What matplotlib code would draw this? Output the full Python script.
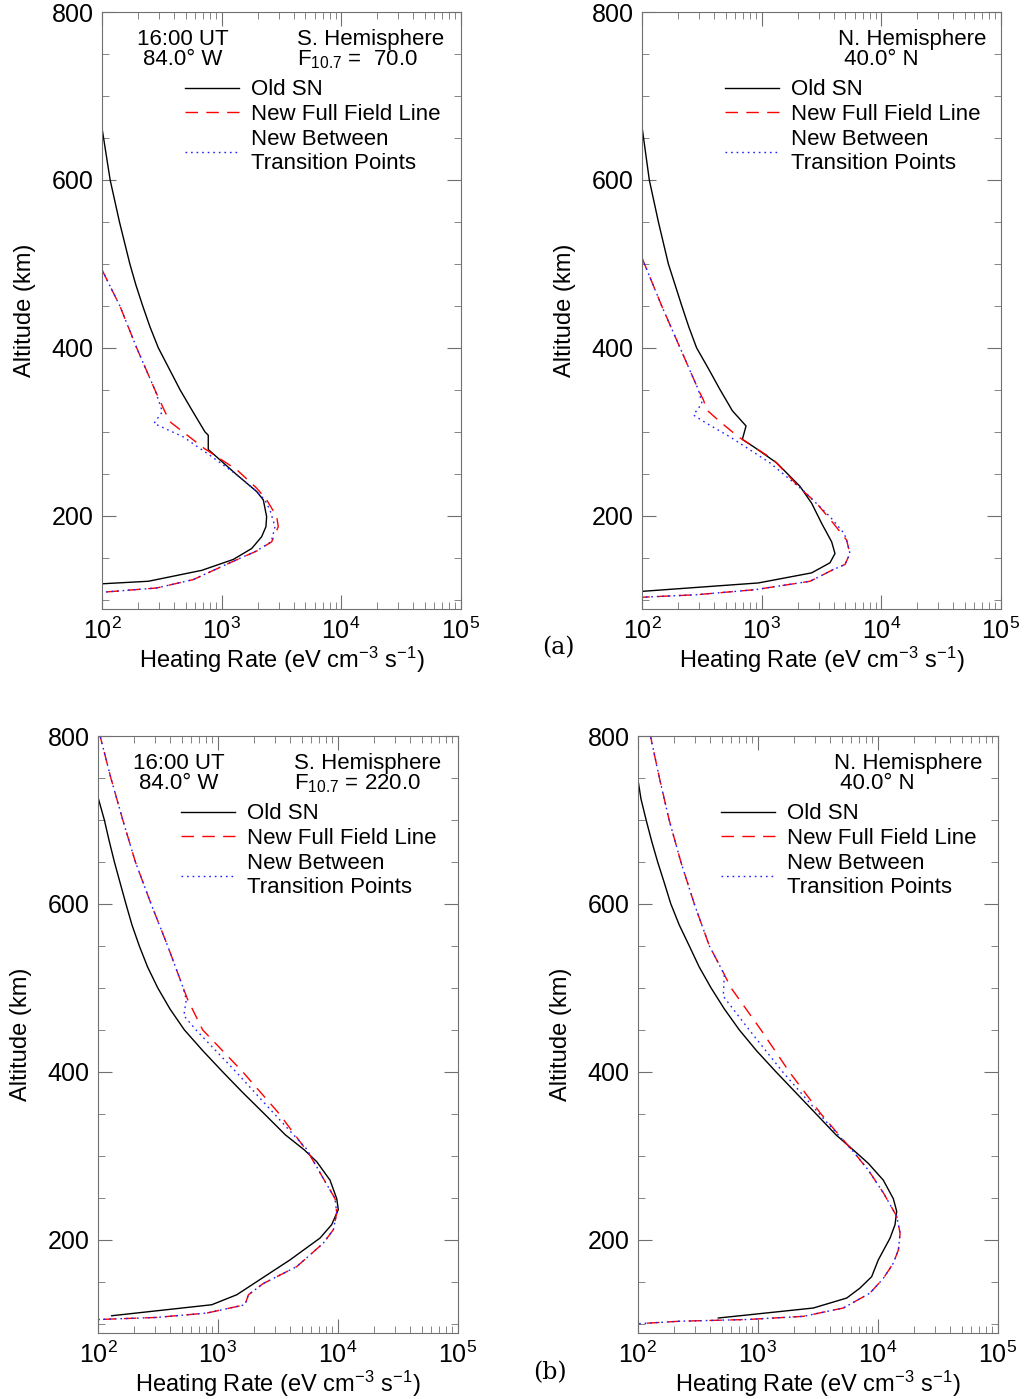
import numpy as np
import matplotlib.pyplot as plt
from matplotlib.ticker import MultipleLocator, LogLocator, NullFormatter

plt.rcParams['font.family'] = ['Liberation Sans', 'DejaVu Sans']
plt.rcParams['mathtext.fontset'] = 'custom'
plt.rcParams['mathtext.rm'] = 'Liberation Sans'
plt.rcParams['mathtext.it'] = 'Liberation Sans:italic'
plt.rcParams['mathtext.bf'] = 'Liberation Sans:bold'

# ---- panel (a) left: S. Hemisphere, F10.7 = 70
old_alt_a1 = [662, 600, 550, 500, 475, 450, 425, 400, 375, 350, 325, 300, 296, 279, 249, 229, 219, 199, 187, 175, 161, 148, 135, 122, 119]
old_rate_a1 = [100, 117, 140, 171, 192, 219, 252, 296, 365, 450, 570, 726, 774, 774, 1337, 1963, 2233, 2382, 2350, 2163, 1786, 1253, 682, 244, 100]
full_alt_a1 = [493, 450, 400, 350, 324, 312, 280, 255, 233, 219, 199, 187, 169, 158, 144, 124, 114, 109]
full_rate_a1 = [100, 141, 195, 277, 336, 370, 720, 1337, 1963, 2382, 2893, 2980, 2623, 1963, 1175, 580, 286, 102]
betw_alt_a1 = [493, 450, 400, 350, 324, 310, 294, 272, 249, 229, 219, 207, 187, 169, 158, 144, 124, 114, 109]
betw_rate_a1 = [100, 141, 195, 277, 320, 272, 478, 800, 1337, 1963, 2300, 2540, 2800, 2600, 1950, 1170, 580, 286, 102]

# ---- panel (a) right: N. Hemisphere, 40 N
old_alt_a2 = [663, 600, 550, 500, 475, 450, 425, 400, 375, 350, 325, 307, 291, 281, 263, 235, 215, 191, 169, 155, 144, 132, 120, 110]
old_rate_a2 = [100, 115, 137, 166, 189, 215, 246, 286, 360, 450, 570, 741, 690, 883, 1337, 2094, 2620, 3177, 3853, 4107, 3729, 2620, 938, 100]
full_alt_a2 = [507, 450, 400, 350, 338, 326, 312, 294, 267, 233, 215, 191, 171, 155, 142, 136, 122, 112, 106, 103]
full_rate_a2 = [100, 146, 208, 296, 326, 348, 449, 640, 1253, 2094, 2885, 3981, 5140, 5480, 4980, 3981, 2540, 883, 286, 101]
betw_alt_a2 = [507, 450, 400, 350, 334, 320, 310, 294, 263, 230, 199, 179, 171, 155, 142, 136, 122, 112, 106, 103]
betw_rate_a2 = [100, 146, 208, 296, 317, 269, 348, 544, 1175, 2234, 3729, 4900, 5140, 5480, 4980, 3981, 2540, 883, 286, 101]

# ---- panel (b) left: S. Hemisphere, F10.7 = 220
old_alt_b1 = [727, 700, 675, 650, 625, 600, 575, 550, 525, 500, 475, 450, 425, 400, 375, 350, 325, 307, 293, 271, 249, 236, 218, 202, 176, 134.5, 122.6, 109.5]
old_rate_b1 = [100, 113, 124, 137, 153, 171, 192, 221, 259, 315, 398, 525, 750, 1096, 1620, 2438, 3650, 5260, 6670, 8610, 9790, 10090, 8890, 7100, 3990, 1436, 888, 130]
full_alt_b1 = [805, 750, 700, 650, 600, 550, 500, 486, 450, 400, 350, 302, 273, 249, 232, 212, 196, 168, 148, 134.5, 122.6, 112.7, 107.5, 105]
full_rate_b1 = [102, 128, 161, 205, 277, 381, 514, 560, 746, 1610, 3250, 5780, 7570, 9480, 9790, 9180, 7570, 4540, 2394, 1796, 1683, 807, 308, 100]
betw_alt_b1 = [805, 750, 700, 650, 600, 550, 500, 486, 467, 450, 400, 350, 308, 273, 249, 232, 212, 196, 168, 148, 134.5, 122.6, 112.7, 107.5, 105]
betw_rate_b1 = [102, 128, 161, 205, 277, 381, 514, 545, 520, 656, 1416, 2950, 5500, 7570, 9480, 9790, 9180, 7570, 4540, 2394, 1796, 1683, 807, 308, 100]

# ---- panel (b) right: N. Hemisphere, 40 N
old_alt_b2 = [748, 725, 700, 675, 650, 625, 600, 575, 550, 525, 500, 475, 450, 425, 400, 375, 350, 325, 307, 291, 271, 249, 234, 218, 202, 176, 156, 142.5, 130.6, 118.7, 106.8]
old_rate_b2 = [100, 106, 117, 130, 146, 166, 188, 221, 268, 324, 407, 525, 700, 977, 1416, 2080, 3055, 4480, 6250, 8340, 11120, 13470, 14380, 13930, 12660, 10100, 8890, 7110, 5510, 2897, 468]
full_alt_b2 = [805, 750, 700, 650, 600, 550, 516, 500, 450, 400, 350, 305, 283, 256, 228, 208, 188, 172, 154, 136.5, 118.7, 108.8, 105, 103, 100]
full_rate_b2 = [125, 151, 182, 228, 295, 394, 525, 597, 1061, 1828, 3356, 6250, 8340, 11120, 14380, 15350, 14860, 13470, 11120, 8610, 5160, 2394, 807, 224, 100]
betw_alt_b2 = [805, 750, 700, 650, 600, 550, 516, 490, 450, 400, 350, 305, 283, 256, 228, 208, 188, 172, 154, 136.5, 118.7, 108.8, 105, 103, 100]
betw_rate_b2 = [125, 151, 182, 228, 295, 394, 525, 515, 847, 1610, 3250, 6250, 8340, 11120, 14380, 15350, 14860, 13470, 11120, 8610, 5160, 2394, 807, 224, 100]

panels = [
    ([0.0996, 0.5647, 0.3503, 0.4267], (old_alt_a1, old_rate_a1, full_alt_a1, full_rate_a1, betw_alt_a1, betw_rate_a1),
     '16:00 UT\n84.0° W', 'S. Hemisphere\nF$_{10.7}$ =  70.0'),
    ([0.627, 0.5647, 0.3503, 0.4267], (old_alt_a2, old_rate_a2, full_alt_a2, full_rate_a2, betw_alt_a2, betw_rate_a2),
     None, 'N. Hemisphere\n 40.0° N'),
    ([0.0957, 0.0472, 0.3513, 0.4267], (old_alt_b1, old_rate_b1, full_alt_b1, full_rate_b1, betw_alt_b1, betw_rate_b1),
     '16:00 UT\n84.0° W', 'S. Hemisphere\nF$_{10.7}$ = 220.0'),
    ([0.623, 0.0472, 0.3513, 0.4267], (old_alt_b2, old_rate_b2, full_alt_b2, full_rate_b2, betw_alt_b2, betw_rate_b2),
     None, 'N. Hemisphere\n 40.0° N'),
]

fig = plt.figure(figsize=(10.24, 13.99), dpi=100)

for rect, d, left_txt, right_txt in panels:
    ax = fig.add_axes(rect)
    oa, orr, fa, fr, ba, br = d
    ax.plot(orr, oa, color='black', lw=1.0, label='Old SN')
    ax.plot(fr, fa, color='red', lw=1.0, dashes=(9, 6), label='New Full Field Line')
    ax.plot(br, ba, color='#2020ff', lw=1.0, dashes=(1.2, 2.8), label='New Between\nTransition Points')
    ax.set_xscale('log')
    ax.set_xlim(100, 1e5)
    ax.set_ylim(89, 800)
    ax.yaxis.set_major_locator(MultipleLocator(200))
    ax.yaxis.set_minor_locator(MultipleLocator(50))
    ax.xaxis.set_major_locator(LogLocator(base=10, numticks=10))
    ax.xaxis.set_minor_locator(LogLocator(base=10, subs=np.arange(2, 10), numticks=20))
    ax.xaxis.set_minor_formatter(NullFormatter())
    ax.tick_params(which='both', direction='in', top=True, right=True, color='#707070')
    ax.tick_params(which='major', length=10, labelsize=18, pad=6)
    ax.tick_params(which='minor', length=5)
    for s in ax.spines.values():
        s.set_color('#707070')
    ax.set_xlabel('Heating Rate (eV cm$^{-3}$ s$^{-1}$)', fontsize=17, labelpad=1)
    ax.set_ylabel('Altitude (km)', fontsize=17, labelpad=11)
    if left_txt:
        ax.text(0.225, 0.972, left_txt, transform=ax.transAxes, ha='center', va='top',
                fontsize=16, linespacing=0.95)
    ax.text(0.545, 0.972, right_txt, transform=ax.transAxes, ha='left', va='top',
            fontsize=16, linespacing=0.95)
    ax.legend(loc='upper left', bbox_to_anchor=(0.232, 0.887), frameon=False, fontsize=16,
              handlelength=2.4, handletextpad=0.54, labelspacing=0.17, borderpad=0, borderaxespad=0)

fig.text(0.545, 0.537, '(a)', fontsize=17, family='DejaVu Serif', ha='center', va='center')
fig.text(0.537, 0.019, '(b)', fontsize=17, family='DejaVu Serif', ha='center', va='center')

fig.savefig('out.png', dpi=100)
